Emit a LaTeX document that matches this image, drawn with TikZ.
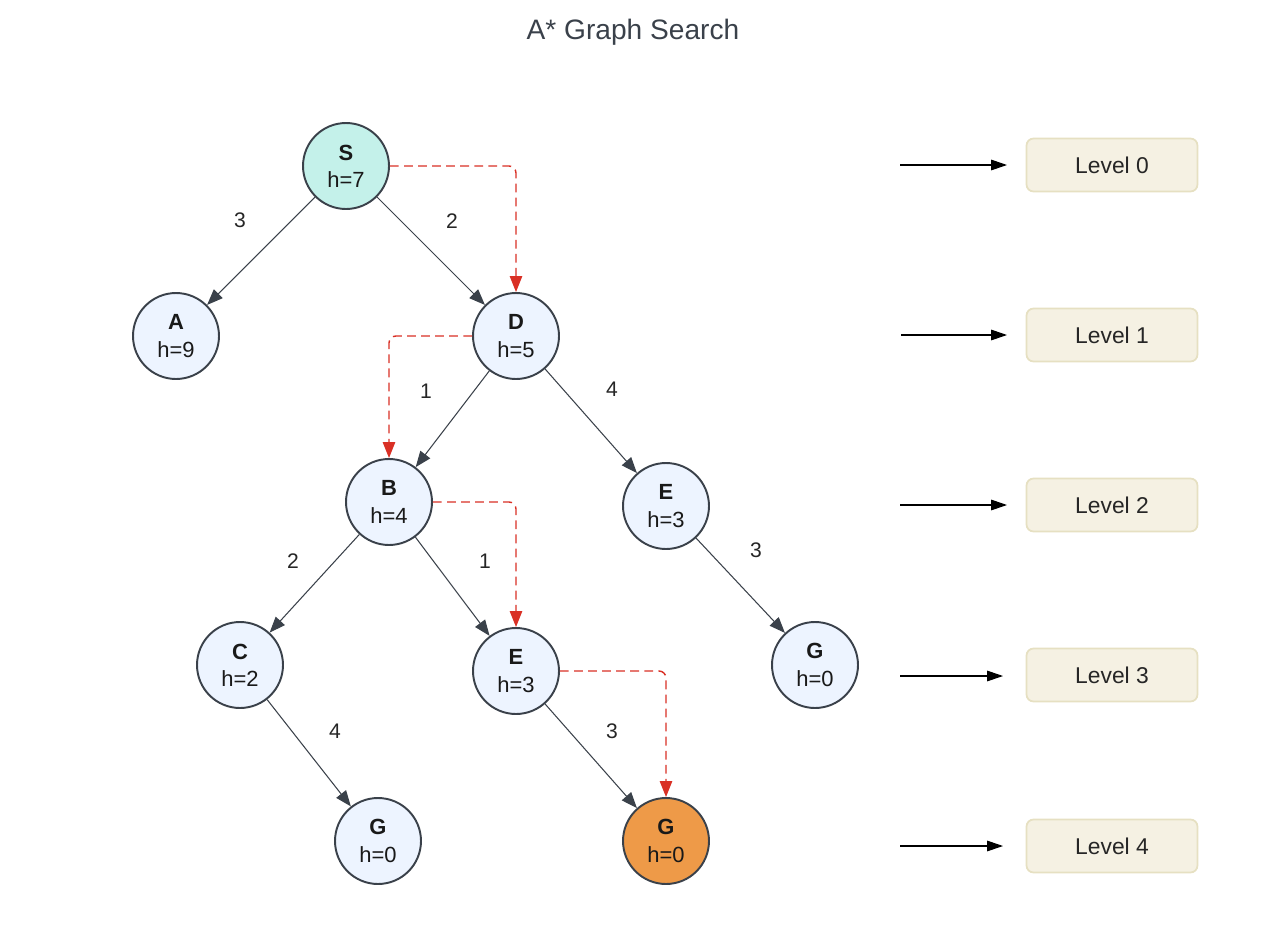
\documentclass[tikz,border=0pt]{standalone}
\usepackage{fontspec}
\setmainfont{Liberation Sans}
\usetikzlibrary{arrows.meta}
\definecolor{strokec}{HTML}{3A414A}
\definecolor{nodefill}{HTML}{EDF4FF}
\definecolor{startfill}{HTML}{C4F1EA}
\definecolor{goalfill}{HTML}{EE9A48}
\definecolor{lvlfill}{HTML}{F5F1E3}
\definecolor{lvldraw}{HTML}{E6E0C2}
\definecolor{redpath}{HTML}{D93025}
\definecolor{titlec}{HTML}{3A414A}
\tikzset{
  statenode/.style={circle, draw=strokec, line width=1.1pt, fill=nodefill, minimum size=1.72cm, inner sep=0pt, align=center, font=\fontsize{12.5}{15.5}\selectfont, text=black!90},
  treeedge/.style={draw=strokec, line width=0.6pt, -{Triangle[length=9pt,width=7pt]}},
  pathedge/.style={draw=redpath, line width=0.8pt, dash pattern=on 5pt off 3pt, rounded corners=4pt, -{Triangle[length=9pt,width=7pt]}},
  wlabel/.style={font=\fontsize{12}{14}\selectfont, text=black!85},
  lvlbox/.style={rectangle, rounded corners=4pt, draw=lvldraw, line width=1pt, fill=lvlfill, minimum width=3.42cm, minimum height=1.06cm, inner sep=0pt, font=\fontsize{13}{15}\selectfont, text=black!85},
  lvlarrow/.style={draw=black, line width=0.6pt, -{Triangle[length=9pt,width=6pt]}}
}
\begin{document}
\begin{tikzpicture}[x=0.02cm, y=-0.02cm]
\useasboundingbox (0,0) rectangle (1276,930);
\node[font=\fontsize{16}{19}\selectfont, text=titlec] (title) at (633,32) {A* Graph Search};
% nodes
\node[statenode, fill=startfill] (S) at (346,166) {\textbf{S}\\h=7};
\node[statenode] (A) at (176,336) {\textbf{A}\\h=9};
\node[statenode] (D) at (516,336) {\textbf{D}\\h=5};
\node[statenode] (B) at (389,502) {\textbf{B}\\h=4};
\node[statenode] (E1) at (666,506) {\textbf{E}\\h=3};
\node[statenode] (C) at (240,665) {\textbf{C}\\h=2};
\node[statenode] (E2) at (516,671) {\textbf{E}\\h=3};
\node[statenode] (G1) at (815,665) {\textbf{G}\\h=0};
\node[statenode] (G2) at (378,841) {\textbf{G}\\h=0};
\node[statenode, fill=goalfill] (G3) at (666,841) {\textbf{G}\\h=0};
% tree edges
\draw[treeedge] (S) -- (A);
\draw[treeedge] (S) -- (D);
\draw[treeedge] (D) -- (B);
\draw[treeedge] (D) -- (E1);
\draw[treeedge] (B) -- (C);
\draw[treeedge] (B) -- (E2);
\draw[treeedge] (E1) -- (G1);
\draw[treeedge] (C) -- (G2);
\draw[treeedge] (E2) -- (G3);
% weights
\node[wlabel] (w1) at (240,220) {3};
\node[wlabel] (w2) at (452,221) {2};
\node[wlabel] (w3) at (426,391) {1};
\node[wlabel] (w4) at (612,389) {4};
\node[wlabel] (w5) at (293,561) {2};
\node[wlabel] (w6) at (485,561) {1};
\node[wlabel] (w7) at (756,550) {3};
\node[wlabel] (w8) at (335,731) {4};
\node[wlabel] (w9) at (612,731) {3};
% red path
\draw[pathedge] (S.east) -| (D.north);
\draw[pathedge] (D.west) -| (B.north);
\draw[pathedge] (B.east) -| (E2.north);
\draw[pathedge] (E2.east) -| (G3.north);
% levels
\node[lvlbox] (L0) at (1112,165) {Level 0};
\node[lvlbox] (L1) at (1112,335) {Level 1};
\node[lvlbox] (L2) at (1112,505) {Level 2};
\node[lvlbox] (L3) at (1112,675) {Level 3};
\node[lvlbox] (L4) at (1112,846) {Level 4};
\coordinate (a0) at (900,165);
\coordinate (a1) at (901,335);
\coordinate (a2) at (900,505);
\coordinate (a3) at (900,676);
\coordinate (a4) at (900,846);
\coordinate (b0) at (1007,165);
\coordinate (b1) at (1007,335);
\coordinate (b2) at (1007,505);
\coordinate (b3) at (1003,676);
\coordinate (b4) at (1003,846);
\draw[lvlarrow] (a0) -- (b0);
\draw[lvlarrow] (a1) -- (b1);
\draw[lvlarrow] (a2) -- (b2);
\draw[lvlarrow] (a3) -- (b3);
\draw[lvlarrow] (a4) -- (b4);
\end{tikzpicture}
\end{document}
